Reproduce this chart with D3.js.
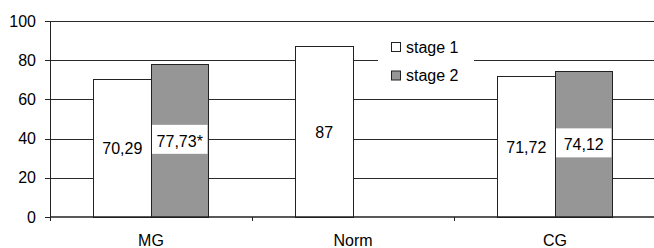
<!DOCTYPE html>
<html><head><meta charset="utf-8">
<script src="https://cdn.jsdelivr.net/npm/d3@7"></script>
<style>html,body{margin:0;padding:0;background:#fff;}svg{display:block;}</style>
</head><body>
<script>
const categories = ["MG", "Norm", "CG"];
const seriesNames = ["stage 1", "stage 2"];
const stage1 = [70.29, 87, 71.72];
const stage2 = [77.73, null, 74.12];
const labels1 = ["70,29", "87", "71,72"];
const labels2 = ["77,73*", null, "74,12"];
const yTicks = [0, 20, 40, 60, 80, 100];

(function() {
const W = 654, H = 248;
const mLeft = 50, mRight = 656, mTop = 21, mBottom = 217;
const font = "Liberation Sans, Arial, sans-serif";
const gray = "#969696";

const svg = d3.select("body").append("svg").attr("width", W).attr("height", H);

const y = d3.scaleLinear().domain([0, 100]).range([mBottom, mTop]);
const x0 = d3.scaleBand().domain(categories).range([mLeft, mRight]).padding(0);
const x1 = d3.scaleBand().domain(seriesNames).range([0, x0.bandwidth()]).paddingInner(0).paddingOuter(0.757);

// gridlines
svg.append("g").selectAll("line").data(yTicks.filter(d => d > 0)).join("line")
  .attr("x1", mLeft).attr("x2", mRight)
  .attr("y1", d => Math.round(y(d)) + 0.5).attr("y2", d => Math.round(y(d)) + 0.5)
  .attr("stroke", "#2a2a2a").attr("stroke-width", 1);

// legend background (hides gridline)
svg.append("rect").attr("x", 378).attr("y", 30).attr("width", 96).attr("height", 60).attr("fill", "#fff");

// y axis
const yAxis = d3.axisLeft(y).tickValues(yTicks).tickSize(5).tickPadding(9);
const gy = svg.append("g").attr("transform", `translate(${mLeft},0)`).call(yAxis);
gy.select(".domain").remove();
gy.selectAll(".tick line").attr("stroke", "#222").attr("shape-rendering", "crispEdges");
gy.selectAll("text").attr("font-family", font).attr("font-size", 16).attr("fill", "#000");
svg.append("line").attr("x1", mLeft + 0.5).attr("x2", mLeft + 0.5).attr("y1", mTop).attr("y2", mBottom + 4)
  .attr("stroke", "#222");

// bars
const groups = svg.append("g").selectAll("g").data(categories).join("g")
  .attr("transform", d => `translate(${x0(d)},0)`);

groups.each(function(cat, i) {
  const g = d3.select(this);
  const vals = [stage1[i], stage2[i]];
  const labs = [labels1[i], labels2[i]];
  vals.forEach((v, j) => {
    if (v == null) return;
    const s = seriesNames[j];
    const bx = x1(s), bw = x1.bandwidth();
    g.append("rect").attr("x", bx).attr("y", y(v)).attr("width", bw).attr("height", y(0) - y(v))
      .attr("fill", j === 0 ? "#fff" : gray).attr("stroke", "#222").attr("stroke-width", 1)
      .attr("shape-rendering", "crispEdges");
    const mid = (y(v) + y(0)) / 2;
    if (j === 1) {
      g.append("rect").attr("x", bx + 1).attr("y", mid - 16).attr("width", bw - 2).attr("height", 29)
        .attr("fill", "#fff");
    }
    g.append("text").attr("x", bx + bw / 2).attr("y", mid + 6)
      .attr("text-anchor", "middle").attr("font-family", font).attr("font-size", 16)
      .attr("fill", "#000").text(labs[j]);
  });
});

// x axis line
svg.append("line").attr("x1", mLeft).attr("x2", mRight).attr("y1", mBottom).attr("y2", mBottom)
  .attr("stroke", "#222").attr("stroke-width", 1.5);
// x ticks at category boundaries
svg.append("g").selectAll("line").data(categories.slice(1)).join("line")
  .attr("x1", d => x0(d)).attr("x2", d => x0(d)).attr("y1", mBottom).attr("y2", mBottom + 4)
  .attr("stroke", "#222").attr("shape-rendering", "crispEdges");
// category labels
svg.append("g").selectAll("text").data(categories).join("text")
  .attr("x", d => x0(d) + x0.bandwidth() / 2).attr("y", 246)
  .attr("text-anchor", "middle").attr("font-family", font).attr("font-size", 16).attr("fill", "#000")
  .text(d => d);

// legend
const leg = svg.append("g");
seriesNames.forEach((s, j) => {
  const ry = 42.5 + j * 28.5;
  leg.append("rect").attr("x", 391.5).attr("y", ry).attr("width", 9).attr("height", 9)
    .attr("fill", j === 0 ? "#fff" : gray).attr("stroke", "#222").attr("stroke-width", 1);
  leg.append("text").attr("x", 406).attr("y", ry + 10).attr("font-family", font).attr("font-size", 16)
    .attr("fill", "#000").text(s);
});
})();
</script>
</body></html>
